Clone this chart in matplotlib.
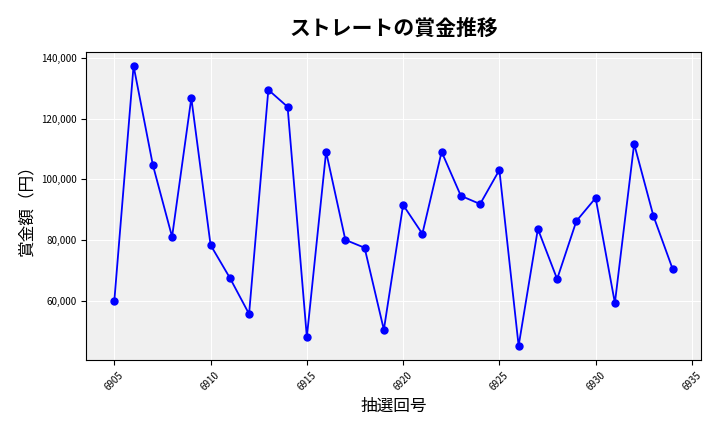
import matplotlib
matplotlib.use('Agg')
import matplotlib.pyplot as plt
from matplotlib.ticker import FuncFormatter

plt.rcParams['font.family'] = ['Noto Sans CJK JP', 'DejaVu Sans']

draws = list(range(6905, 6935))
prize = [60000, 137400, 104800, 81100, 126800, 78400, 67600, 55700, 129500, 123900,
         48100, 109100, 80100, 77500, 50500, 91600, 82100, 109100, 94600, 91900,
         103100, 45200, 83700, 67200, 86300, 93900, 59300, 111700, 88000, 70500]

fig, ax = plt.subplots(figsize=(7.2, 4.32), dpi=100)
ax.set_facecolor('#f0f0f0')
ax.plot(draws, prize, color='blue', marker='o', markersize=5, linewidth=1.3)
ax.grid(True, color='white', linewidth=0.8)
ax.set_axisbelow(True)
ax.yaxis.set_major_formatter(FuncFormatter(lambda v, p: f'{int(v):,}'))
ax.tick_params(axis='x', labelsize=7, rotation=45)
ax.tick_params(axis='y', labelsize=7)
ax.set_xlabel('抽選回号', fontsize=12)
ax.set_ylabel('賞金額（円）', fontsize=12)
ax.set_title('ストレートの賞金推移', fontsize=15, fontweight='bold', pad=12)
fig.subplots_adjust(left=0.12, right=0.973, top=0.88, bottom=0.167)
fig.savefig('out.png')
